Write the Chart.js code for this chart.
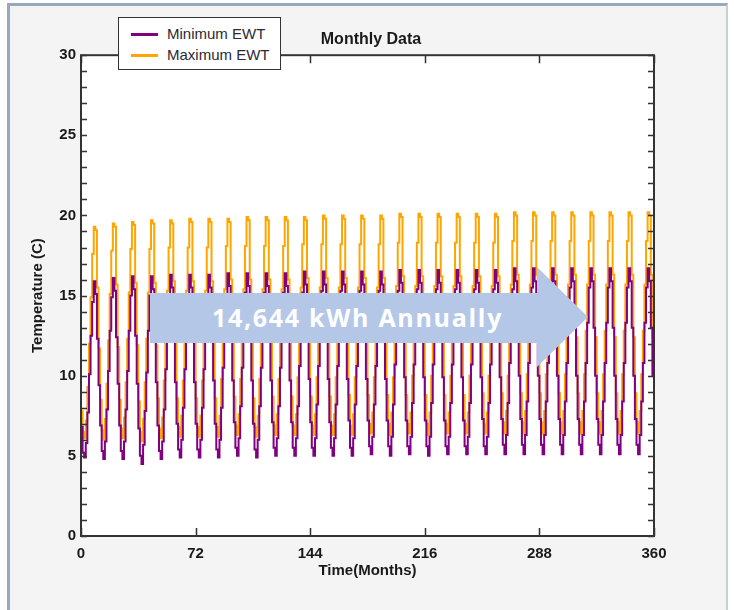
<!DOCTYPE html>
<html>
<head>
<meta charset="utf-8">
<script src="https://cdn.jsdelivr.net/npm/chart.js@4"></script>
<style>
  html, body { margin: 0; padding: 0; background: #fff; }
  body { width: 734px; height: 610px; position: relative; overflow: hidden; font-family: "Liberation Sans", Arial, sans-serif; }
  #frame { position: absolute; left: 7px; top: 3px; width: 716px; height: 640px; background: #f4f4f4;
           border-left: 3px solid #98a8bd; border-top: 3px solid #98a8bd; border-right: 2px solid #c9cfd6; }
  #wrap { position: absolute; left: 0; top: 0; width: 734px; height: 610px; }
  #legend { position: absolute; left: 118px; top: 17px; width: 161px; height: 51px; background: #fff;
            border: 1.5px solid #333; }
  #legend .item { position: absolute; left: 0; height: 20px; line-height: 20px; font-size: 15px; color: #2a2a35; }
  #legend .swatch { position: absolute; left: 12px; top: 9px; width: 27px; height: 3px; }
  #legend .label { position: absolute; left: 48px; white-space: nowrap; }
  #arrow { position: absolute; left: 150px; top: 267px; width: 438px; height: 100px; background: #b4c7e7;
           clip-path: polygon(0 26px, 387px 26px, 387px 0, 438px 50px, 387px 100px, 387px 76px, 0 76px); }
  #arrow span { position: absolute; left: 62px; top: 35px; line-height: 30px; font-family: "Open Sans", sans-serif;
                font-weight: 700; font-size: 25px; letter-spacing: 1.7px; color: #fff; white-space: nowrap; }
</style>
</head>
<body>
<div id="frame"></div>
<div id="wrap"><canvas id="ewtChart"></canvas></div>
<div id="legend"></div>
<div id="arrow"><span>14,644 kWh Annually</span></div>
<script>
// monthly entering water temperature (C), one line per year, months 0..360
const minEwt = [
    6.8, 5.2, 4.9, 5.8, 7.7, 10.1, 12.5, 14.6, 15.9, 15.1, 12.3, 9.4,
    6.9, 5.3, 4.8, 5.9, 7.9, 10.3, 12.8, 14.9, 16.1, 15.3, 12.4, 9.5,
    6.9, 5.3, 4.8, 5.9, 7.9, 10.3, 12.8, 15.0, 16.2, 15.4, 12.5, 9.5,
    6.7, 5.0, 4.5, 5.7, 7.8, 10.2, 12.8, 15.0, 16.2, 15.4, 12.5, 9.6,
    6.9, 5.3, 4.8, 5.9, 7.9, 10.4, 12.9, 15.0, 16.3, 15.5, 12.6, 9.6,
    7.0, 5.4, 4.9, 6.0, 8.0, 10.4, 12.9, 15.1, 16.3, 15.5, 12.6, 9.6,
    7.0, 5.4, 4.9, 6.0, 8.0, 10.4, 12.9, 15.1, 16.3, 15.5, 12.6, 9.7,
    7.0, 5.4, 4.9, 6.0, 8.0, 10.5, 13.0, 15.1, 16.4, 15.6, 12.7, 9.7,
    7.1, 5.5, 5.0, 6.1, 8.1, 10.5, 13.0, 15.2, 16.4, 15.6, 12.7, 9.7,
    7.0, 5.4, 4.9, 6.0, 8.1, 10.5, 13.0, 15.2, 16.4, 15.6, 12.7, 9.7,
    7.1, 5.5, 5.0, 6.1, 8.1, 10.5, 13.0, 15.2, 16.4, 15.6, 12.7, 9.7,
    7.1, 5.5, 5.0, 6.1, 8.1, 10.6, 13.1, 15.2, 16.5, 15.7, 12.8, 9.8,
    7.1, 5.5, 5.0, 6.1, 8.2, 10.6, 13.1, 15.3, 16.5, 15.7, 12.8, 9.8,
    7.1, 5.5, 5.0, 6.1, 8.2, 10.6, 13.1, 15.3, 16.5, 15.7, 12.8, 9.8,
    7.2, 5.5, 5.0, 6.1, 8.2, 10.6, 13.1, 15.3, 16.5, 15.7, 12.8, 9.8,
    7.2, 5.6, 5.1, 6.2, 8.2, 10.6, 13.1, 15.3, 16.5, 15.7, 12.8, 9.8,
    7.2, 5.6, 5.0, 6.2, 8.2, 10.7, 13.2, 15.3, 16.6, 15.8, 12.9, 9.9,
    7.2, 5.6, 5.1, 6.2, 8.3, 10.7, 13.2, 15.4, 16.6, 15.8, 12.9, 9.9,
    7.2, 5.6, 5.0, 6.2, 8.3, 10.7, 13.2, 15.4, 16.6, 15.8, 12.9, 9.9,
    7.2, 5.6, 5.1, 6.2, 8.3, 10.7, 13.2, 15.4, 16.6, 15.8, 12.9, 9.9,
    7.2, 5.6, 5.1, 6.2, 8.3, 10.7, 13.2, 15.4, 16.6, 15.8, 12.9, 9.9,
    7.3, 5.6, 5.1, 6.2, 8.3, 10.7, 13.2, 15.4, 16.6, 15.8, 12.9, 9.9,
    7.3, 5.7, 5.1, 6.3, 8.3, 10.8, 13.3, 15.4, 16.7, 15.9, 13.0, 10.0,
    7.3, 5.7, 5.1, 6.3, 8.4, 10.8, 13.3, 15.5, 16.7, 15.9, 13.0, 10.0,
    7.3, 5.7, 5.1, 6.3, 8.4, 10.8, 13.3, 15.5, 16.7, 15.9, 13.0, 10.0,
    7.3, 5.7, 5.1, 6.3, 8.4, 10.8, 13.3, 15.5, 16.7, 15.9, 13.0, 10.0,
    7.3, 5.7, 5.1, 6.3, 8.4, 10.8, 13.3, 15.5, 16.7, 15.9, 13.0, 10.0,
    7.3, 5.7, 5.1, 6.3, 8.4, 10.8, 13.3, 15.5, 16.7, 15.9, 13.0, 10.0,
    7.3, 5.7, 5.1, 6.3, 8.4, 10.8, 13.3, 15.5, 16.7, 15.9, 13.0, 10.0,
    7.3, 5.7, 5.1, 6.3, 8.4, 10.8, 13.3, 15.5, 16.7, 15.9, 13.0, 10.0,
    7.3
];

const maxEwt = [
    7.8, 6.5, 6.1, 7.2, 9.3, 12.0, 14.9, 17.6, 19.3, 19.1, 15.5, 11.7,
    8.5, 6.6, 6.0, 7.3, 9.5, 12.2, 15.1, 17.8, 19.5, 19.3, 15.7, 11.8,
    8.5, 6.7, 6.1, 7.4, 9.6, 12.3, 15.2, 17.9, 19.6, 19.4, 15.8, 11.9,
    8.4, 6.5, 5.9, 7.3, 9.6, 12.3, 15.2, 17.9, 19.7, 19.5, 15.8, 11.9,
    8.6, 6.7, 6.1, 7.4, 9.7, 12.4, 15.3, 18.0, 19.7, 19.5, 15.9, 12.0,
    8.6, 6.8, 6.2, 7.5, 9.7, 12.4, 15.3, 18.0, 19.8, 19.6, 15.9, 12.0,
    8.6, 6.8, 6.2, 7.5, 9.7, 12.4, 15.3, 18.0, 19.8, 19.6, 15.9, 12.0,
    8.6, 6.8, 6.2, 7.5, 9.8, 12.5, 15.4, 18.1, 19.8, 19.6, 16.0, 12.1,
    8.7, 6.9, 6.3, 7.6, 9.8, 12.5, 15.4, 18.1, 19.9, 19.7, 16.0, 12.1,
    8.6, 6.8, 6.2, 7.5, 9.8, 12.5, 15.4, 18.1, 19.9, 19.7, 16.0, 12.1,
    8.7, 6.9, 6.3, 7.6, 9.8, 12.5, 15.4, 18.1, 19.9, 19.7, 16.0, 12.1,
    8.7, 6.9, 6.3, 7.6, 9.9, 12.6, 15.5, 18.2, 19.9, 19.7, 16.1, 12.2,
    8.7, 6.9, 6.3, 7.6, 9.9, 12.6, 15.5, 18.2, 20.0, 19.8, 16.1, 12.2,
    8.7, 6.9, 6.3, 7.6, 9.9, 12.6, 15.5, 18.2, 20.0, 19.8, 16.1, 12.2,
    8.8, 6.9, 6.3, 7.6, 9.9, 12.6, 15.5, 18.2, 20.0, 19.8, 16.1, 12.2,
    8.8, 7.0, 6.4, 7.7, 9.9, 12.6, 15.5, 18.2, 20.0, 19.8, 16.1, 12.2,
    8.8, 7.0, 6.3, 7.7, 9.9, 12.7, 15.6, 18.3, 20.1, 19.9, 16.2, 12.3,
    8.8, 7.0, 6.4, 7.7, 10.0, 12.7, 15.6, 18.3, 20.1, 19.9, 16.2, 12.3,
    8.8, 7.0, 6.3, 7.7, 10.0, 12.7, 15.6, 18.3, 20.1, 19.9, 16.2, 12.3,
    8.8, 7.0, 6.4, 7.7, 10.0, 12.7, 15.6, 18.3, 20.1, 19.9, 16.2, 12.3,
    8.8, 7.0, 6.4, 7.7, 10.0, 12.7, 15.6, 18.3, 20.1, 19.9, 16.2, 12.3,
    8.9, 7.0, 6.4, 7.7, 10.0, 12.7, 15.6, 18.3, 20.1, 19.9, 16.2, 12.3,
    8.9, 7.1, 6.4, 7.8, 10.0, 12.8, 15.7, 18.4, 20.2, 20.0, 16.3, 12.4,
    8.9, 7.1, 6.4, 7.8, 10.1, 12.8, 15.7, 18.4, 20.2, 20.0, 16.3, 12.4,
    8.9, 7.1, 6.4, 7.8, 10.1, 12.8, 15.7, 18.4, 20.2, 20.0, 16.3, 12.4,
    8.9, 7.1, 6.4, 7.8, 10.1, 12.8, 15.7, 18.4, 20.2, 20.0, 16.3, 12.4,
    8.9, 7.1, 6.4, 7.8, 10.1, 12.8, 15.7, 18.4, 20.2, 20.0, 16.3, 12.4,
    8.9, 7.1, 6.4, 7.8, 10.1, 12.8, 15.7, 18.4, 20.2, 20.0, 16.3, 12.4,
    8.9, 7.1, 6.4, 7.8, 10.1, 12.8, 15.7, 18.4, 20.2, 20.0, 16.3, 12.4,
    8.9, 7.1, 6.4, 7.8, 10.1, 12.8, 15.7, 18.4, 20.2, 20.0, 16.3, 12.4,
    8.9
];

const seriesNames = ['Minimum EWT', 'Maximum EWT'];
const seriesColors = ['#800080', '#ffa500'];
const xTicks = [0, 72, 144, 216, 288, 360];
const yTicks = [0, 5, 10, 15, 20, 25, 30];

const months = minEwt.map((v, i) => i);
const FONT = '"Liberation Sans", Arial, sans-serif';

// legend box (html so it can sit over the plot frame)
const legend = document.getElementById('legend');
seriesNames.forEach((name, i) => {
    const item = document.createElement('div');
    item.className = 'item';
    item.style.top = (6 + i * 21) + 'px';
    item.style.width = '100%';
    item.innerHTML = '<span class="swatch" style="background:' + seriesColors[i] + '"></span><span class="label">' + name + '</span>';
    legend.appendChild(item);
});

// white plot area, black frame and inward tick marks
const plotFrame = {
    id: 'plotFrame',
    beforeDatasetsDraw(chart) {
        const a = chart.chartArea, ctx = chart.ctx;
        ctx.save();
        ctx.fillStyle = '#fff';
        ctx.fillRect(a.left, a.top, a.right - a.left, a.bottom - a.top);
        ctx.restore();
    },
    afterDatasetsDraw(chart) {
        const a = chart.chartArea, ctx = chart.ctx;
        const xs = chart.scales.x, ys = chart.scales.y;
        ctx.save();
        ctx.strokeStyle = '#333';
        ctx.lineWidth = 1.5;
        ctx.beginPath();
        xs.ticks.forEach(t => {
            const px = Math.round(xs.getPixelForValue(t.value)) + 0.5;
            ctx.moveTo(px, a.bottom); ctx.lineTo(px, a.bottom - 8);
            ctx.moveTo(px, a.top); ctx.lineTo(px, a.top + 8);
        });
        for (let v = ys.min; v <= ys.max; v++) {
            const py = Math.round(ys.getPixelForValue(v)) + 0.5;
            ctx.moveTo(a.left, py); ctx.lineTo(a.left + 6, py);
            ctx.moveTo(a.right, py); ctx.lineTo(a.right - 6, py);
        }
        ctx.stroke();
        ctx.lineWidth = 2;
        ctx.strokeRect(a.left, a.top, a.right - a.left, a.bottom - a.top);
        ctx.restore();
    }
};

new Chart(document.getElementById('ewtChart'), {
    type: 'line',
    data: {
        datasets: [
            {
                label: seriesNames[0],
                data: minEwt.map((v, i) => ({ x: months[i], y: v })),
                borderColor: seriesColors[0],
                borderWidth: 2,
                stepped: true,
                pointRadius: 0
            },
            {
                label: seriesNames[1],
                data: maxEwt.map((v, i) => ({ x: months[i], y: v })),
                borderColor: seriesColors[1],
                borderWidth: 2,
                stepped: true,
                pointRadius: 0
            }
        ]
    },
    options: {
        responsive: true,
        maintainAspectRatio: false,
        animation: false,
        events: [],
        layout: { padding: { left: 8, right: 0, top: 0, bottom: 20 } },
        plugins: {
            legend: { display: false },
            tooltip: { enabled: false },
            title: {
                display: true,
                text: 'Monthly Data',
                color: '#1a1a1a',
                font: { family: FONT, size: 16, weight: 'bold' },
                padding: { top: 30, bottom: 6 }
            }
        },
        scales: {
            x: {
                type: 'linear',
                min: 0,
                max: 360,
                afterBuildTicks: s => { s.ticks = xTicks.map(v => ({ value: v })); },
                ticks: { color: '#1a1a1a', font: { family: FONT, size: 15, weight: 'bold' }, padding: 9, maxRotation: 0 },
                grid: { display: false, drawTicks: false },
                border: { display: false },
                title: {
                    display: true,
                    text: 'Time(Months)',
                    color: '#1a1a1a',
                    font: { family: FONT, size: 15, weight: 'bold' },
                    padding: { top: 0, bottom: 10 }
                },
                afterFit: s => { s.height = 54; }
            },
            y: {
                min: 0,
                max: 30,
                afterBuildTicks: s => { s.ticks = yTicks.map(v => ({ value: v })); },
                ticks: { color: '#1a1a1a', font: { family: FONT, size: 15, weight: 'bold' }, padding: 5 },
                grid: { display: false, drawTicks: false },
                border: { display: false },
                title: {
                    display: true,
                    text: 'Temperature (C)',
                    color: '#1a1a1a',
                    font: { family: FONT, size: 15, weight: 'bold' },
                    padding: { top: 21, bottom: 0 }
                },
                afterFit: s => { s.width = 73; }
            },
            // empty right-hand margin so the frame sits where the original does
            yRight: {
                position: 'right',
                min: 0,
                max: 30,
                ticks: { display: false },
                grid: { display: false, drawTicks: false },
                border: { display: false },
                afterFit: s => { s.width = 80; }
            }
        }
    },
    plugins: [plotFrame]
});
</script>
</body>
</html>
